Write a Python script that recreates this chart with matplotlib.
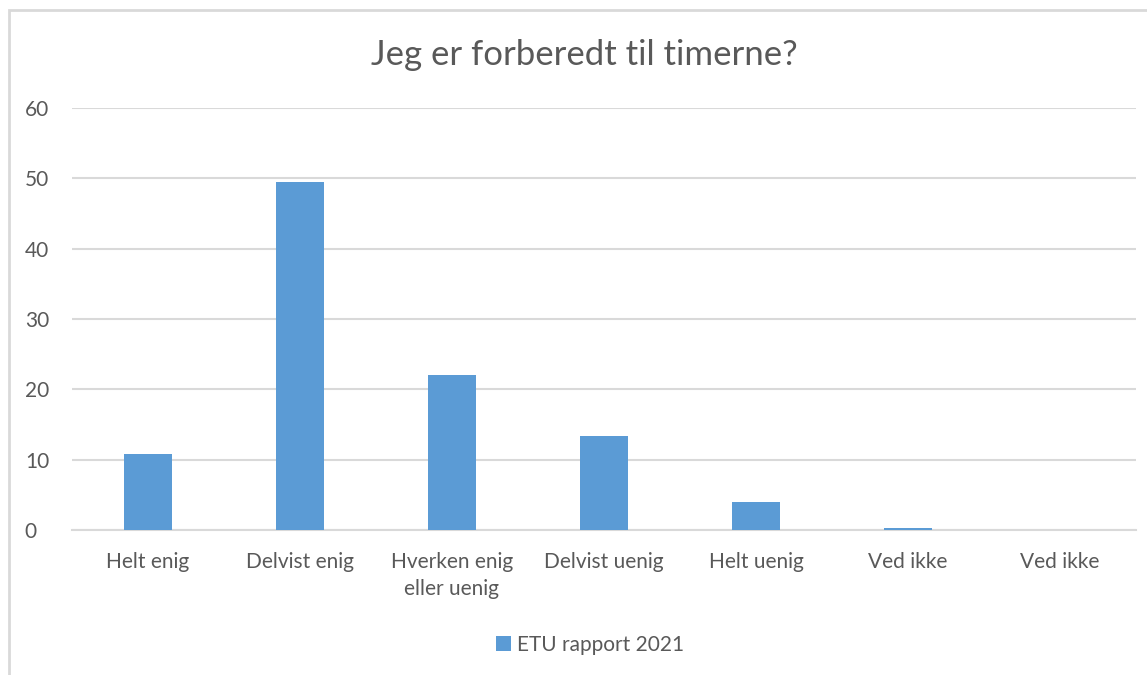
import matplotlib.pyplot as plt
from matplotlib.patches import Rectangle

# survey answers
categories = ['Helt enig', 'Delvist enig', 'Hverken enig\neller uenig',
              'Delvist uenig', 'Helt uenig', 'Ved ikke', 'Ved ikke']
values = [10.8, 49.5, 22.0, 13.4, 4.0, 0.25, 0.0]
series_name = 'ETU rapport 2021'
yticks = [0, 10, 20, 30, 40, 50, 60]

plt.rcParams['font.family'] = ['Lato', 'DejaVu Sans']
text_col = '#595959'
grid_col = '#d9d9d9'

fig = plt.figure(figsize=(11.47, 6.75), dpi=100)
ax = fig.add_axes([72 / 1147, 1 - 530 / 675, 1064 / 1147, 422 / 675])

# outer chart border (cropped at right and bottom)
fig.patches.append(Rectangle((9 / 1147, -0.1), 1.2, 1.1 - 10 / 675,
                             transform=fig.transFigure, fill=False,
                             edgecolor=grid_col, linewidth=2))

x = list(range(len(categories)))
ax.bar(x, values, width=0.31, color='#5b9bd5', label=series_name, zorder=3)

ax.set_xlim(-0.5, len(categories) - 0.5)
ax.set_ylim(0, 60)
ax.set_yticks(yticks)
ax.set_xticks(x)
ax.set_xticklabels(categories, linespacing=1.4)
ax.yaxis.grid(True, color=grid_col, linewidth=1.5, zorder=0)
for s in ['top', 'right', 'left']:
    ax.spines[s].set_visible(False)
ax.spines['bottom'].set_color(grid_col)
ax.spines['bottom'].set_linewidth(1.5)
ax.tick_params(axis='both', length=0, labelsize=15, colors=text_col)
ax.tick_params(axis='x', pad=16)
ax.tick_params(axis='y', pad=34)
for lbl in ax.get_yticklabels():
    lbl.set_horizontalalignment('left')

fig.text(584 / 1147, 1 - 55 / 675, 'Jeg er forberedt til timerne?',
         ha='center', va='center', fontsize=25, color=text_col)

fig.legend(loc='center', bbox_to_anchor=(590 / 1147, 1 - 645 / 675),
           frameon=False, fontsize=15, labelcolor=text_col,
           handlelength=0.7, handleheight=0.7, handletextpad=0.3)

fig.savefig('out.png', dpi=100)
